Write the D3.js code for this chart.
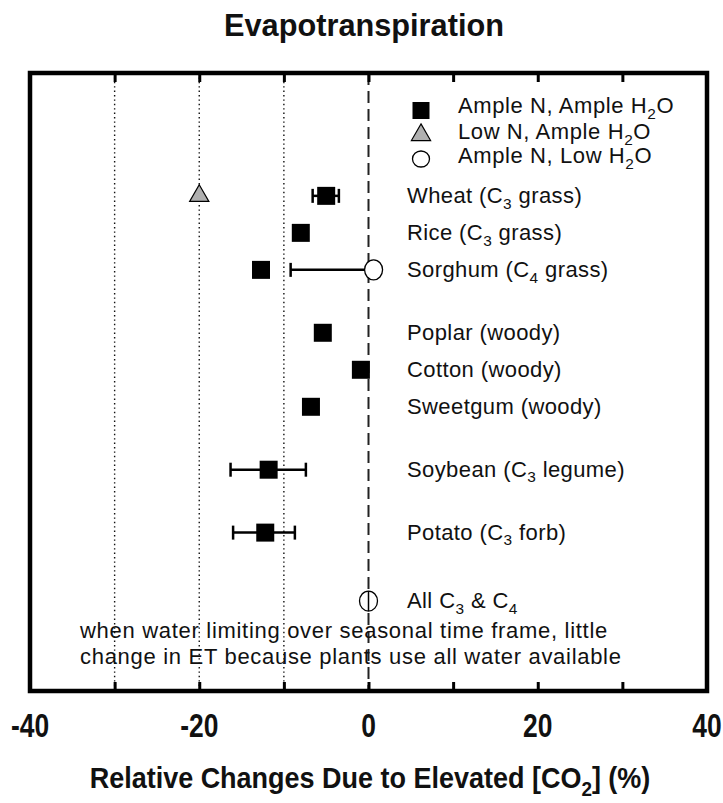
<!DOCTYPE html>
<html>
<head>
<meta charset="utf-8">
<script src="https://cdn.jsdelivr.net/npm/d3@7"></script>
<style>
    body { margin: 0; background: #fff; }
    text { font-family: "Liberation Sans", Arial, sans-serif; fill: #111; }
</style>
</head>
<body>
<div id="chart"></div>
<script>
// crop rows, top to bottom ("_x" marks a subscript)
var crops = ["Wheat (C_3 grass)", "Rice (C_3 grass)", "Sorghum (C_4 grass)",
    "Poplar (woody)", "Cotton (woody)", "Sweetgum (woody)",
    "Soybean (C_3 legume)", "Potato (C_3 forb)", "All C_3 & C_4"];
// y value of each row on the (hidden) y axis
var rowLevel = [13, 12, 11, 9.3, 8.3, 7.3, 5.6, 3.9, 2.05];

// Ample N, Ample H2O
var ampleAmple = [-5, -8, -12.7, -5.4, -0.9, -6.8, -11.8, -12.2, null];
var ampleAmpleLow = [-6.6, null, null, null, null, null, -16.3, -16, null];
var ampleAmpleHigh = [-3.5, null, null, null, null, null, -7.4, -8.7, null];
// Low N, Ample H2O
var lowNAmple = [-20, null, null, null, null, null, null, null, null];
// Ample N, Low H2O
var ampleLowWater = [null, null, 0.6, null, null, null, null, null, 0];
var ampleLowWaterLow = [null, null, -9.2, null, null, null, null, null, 0];
var ampleLowWaterHigh = [null, null, 0.6, null, null, null, null, null, 0];

var xTickLabels = [-40, -20, 0, 20, 40];
var xMinorTicks = [-30, -20, -10, 0, 10, 20, 30];
var dottedGrid = [-30, -20, -10];

var legendLabels = ["Ample N, Ample H_2O", "Low N, Ample H_2O", "Ample N, Low H_2O"];
var noteLines = ["when water limiting over seasonal time frame, little",
    "change in ET because plants use all water available"];

var width = 723, height = 803;
var frame = { left: 30, right: 707, top: 73, bottom: 691 };

var svg = d3.select("#chart").append("svg")
    .attr("width", width)
    .attr("height", height);

var x = d3.scaleLinear().domain([-40, 40]).range([frame.left, frame.right]);
var y = d3.scaleLinear().domain([-0.38, 16.32]).range([frame.bottom, frame.top]);

// writes "C_3" style strings with subscripts into a text element
function subText(sel, str, size) {
    var parts = str.split(/_(\w)/);
    parts.forEach(function (p, i) {
        if (p === "") return;
        var t = sel.append("tspan").text(p);
        if (i % 2 == 1) {
            t.attr("font-size", size * 0.7).attr("dy", size * 0.26);
        } else if (i > 0) {
            t.attr("dy", -size * 0.26);
        }
    });
}

// title
svg.append("text")
    .attr("transform", "translate(364,36) scale(0.96,1)")
    .attr("text-anchor", "middle")
    .attr("font-size", 32)
    .attr("font-weight", "bold")
    .text("Evapotranspiration");

// grid lines
svg.selectAll(".grid")
    .data(dottedGrid)
    .enter().append("line")
    .attr("x1", function (d) { return x(d); })
    .attr("x2", function (d) { return x(d); })
    .attr("y1", frame.top)
    .attr("y2", frame.bottom)
    .attr("stroke", "#111")
    .attr("stroke-width", 1.4)
    .attr("stroke-dasharray", "1.4,3");

svg.append("line")
    .attr("x1", x(0)).attr("x2", x(0))
    .attr("y1", frame.top).attr("y2", frame.bottom)
    .attr("stroke", "#222")
    .attr("stroke-width", 2)
    .attr("stroke-dasharray", "12,6");

// ticks, top and bottom, pointing inward
var bottomAxis = d3.axisBottom(x).tickValues(xMinorTicks).tickSize(-9).tickFormat("");
var topAxis = d3.axisTop(x).tickValues(xMinorTicks).tickSize(-9).tickFormat("");
svg.append("g").attr("transform", "translate(0," + frame.bottom + ")").call(bottomAxis);
svg.append("g").attr("transform", "translate(0," + frame.top + ")").call(topAxis);
svg.selectAll(".domain").remove();
svg.selectAll(".tick line").attr("stroke", "#000").attr("stroke-width", 3);

// frame
svg.append("rect")
    .attr("x", frame.left)
    .attr("y", frame.top)
    .attr("width", frame.right - frame.left)
    .attr("height", frame.bottom - frame.top)
    .attr("fill", "none")
    .attr("stroke", "#000")
    .attr("stroke-width", 4.5);

// tick labels (condensed)
svg.selectAll(".xlabel")
    .data(xTickLabels)
    .enter().append("text")
    .attr("transform", function (d) { return "translate(" + x(d) + ",737) scale(0.8,1)"; })
    .attr("text-anchor", "middle")
    .attr("font-size", 33)
    .attr("font-weight", "bold")
    .text(function (d) { return d; });

// axis title
var axisTitle = svg.append("text")
    .attr("transform", "translate(370,788) scale(0.9,1)")
    .attr("text-anchor", "middle")
    .attr("font-size", 30)
    .attr("font-weight", "bold");
subText(axisTitle, "Relative Changes Due to Elevated [CO_2] (%)", 30);

// rows as objects
var rows = crops.map(function (c, i) {
    return {
        crop: c, level: rowLevel[i],
        aa: ampleAmple[i], aaLo: ampleAmpleLow[i], aaHi: ampleAmpleHigh[i],
        ln: lowNAmple[i],
        lw: ampleLowWater[i], lwLo: ampleLowWaterLow[i], lwHi: ampleLowWaterHigh[i]
    };
});

// error bars
function errorBars(data, lo, hi) {
    var g = svg.append("g").attr("stroke", "#000").attr("stroke-width", 2.5);
    data.forEach(function (d) {
        var cy = y(d.level);
        g.append("line").attr("x1", x(d[lo])).attr("x2", x(d[hi])).attr("y1", cy).attr("y2", cy);
        g.append("line").attr("x1", x(d[lo])).attr("x2", x(d[lo])).attr("y1", cy - 7).attr("y2", cy + 7);
        g.append("line").attr("x1", x(d[hi])).attr("x2", x(d[hi])).attr("y1", cy - 7).attr("y2", cy + 7);
    });
}
errorBars(rows.filter(function (d) { return d.aaLo != null; }), "aaLo", "aaHi");
errorBars(rows.filter(function (d) { return d.lwLo != null && d.lwLo != d.lwHi; }), "lwLo", "lwHi");

var sqSize = 18;
var square = d3.symbol().type(d3.symbolSquare).size(sqSize * sqSize);
var triangle = d3.symbol().type(d3.symbolTriangle).size(160);

// Ample N, Ample H2O squares
svg.selectAll(".sq")
    .data(rows.filter(function (d) { return d.aa != null; }))
    .enter().append("path")
    .attr("d", square)
    .attr("transform", function (d) { return "translate(" + x(d.aa) + "," + y(d.level) + ")"; })
    .attr("fill", "#000");

// Low N triangles
svg.selectAll(".tri")
    .data(rows.filter(function (d) { return d.ln != null; }))
    .enter().append("path")
    .attr("d", triangle)
    .attr("transform", function (d) { return "translate(" + x(d.ln) + "," + y(d.level) + ")"; })
    .attr("fill", "#b0b0b0")
    .attr("stroke", "#000")
    .attr("stroke-width", 1.2);

// Low H2O open circles
svg.selectAll(".circ")
    .data(rows.filter(function (d) { return d.lw != null; }))
    .enter().append("ellipse")
    .attr("cx", function (d) { return x(d.lw); })
    .attr("cy", function (d) { return y(d.level); })
    .attr("rx", 9)
    .attr("ry", 10)
    .attr("fill", "#fff")
    .attr("stroke", "#000")
    .attr("stroke-width", 1.3);

// zero-width error bars show as a cap over the marker
rows.filter(function (d) { return d.lwLo != null && d.lwLo == d.lwHi; }).forEach(function (d) {
    svg.append("line")
        .attr("x1", x(d.lwLo)).attr("x2", x(d.lwLo))
        .attr("y1", y(d.level) - 10).attr("y2", y(d.level) + 10)
        .attr("stroke", "#000").attr("stroke-width", 1.5);
});

// crop labels
rows.forEach(function (d) {
    var t = svg.append("text")
        .attr("x", 407)
        .attr("y", y(d.level) + 7)
        .attr("font-size", 22)
        .attr("letter-spacing", 0.4);
    subText(t, d.crop, 22);
});

// legend
var legendY = [105, 131, 155];
var legend = svg.append("g");
legend.append("rect")
    .attr("x", 421 - 8.5).attr("y", legendY[0] - 3)
    .attr("width", 17).attr("height", 17)
    .attr("fill", "#000");
legend.append("path")
    .attr("d", triangle)
    .attr("transform", "translate(421," + (legendY[1] + 4) + ")")
    .attr("fill", "#b0b0b0")
    .attr("stroke", "#000")
    .attr("stroke-width", 1.2);
legend.append("ellipse")
    .attr("cx", 421).attr("cy", legendY[2] + 4)
    .attr("rx", 8.5).attr("ry", 8)
    .attr("fill", "#fff")
    .attr("stroke", "#000")
    .attr("stroke-width", 1.3);
legendLabels.forEach(function (l, i) {
    var t = legend.append("text")
        .attr("x", 458)
        .attr("y", legendY[i] + 8)
        .attr("font-size", 22)
        .attr("letter-spacing", 0.6);
    subText(t, l, 22);
});

// note at the bottom
svg.selectAll(".note")
    .data(noteLines)
    .enter().append("text")
    .attr("x", 80)
    .attr("y", function (d, i) { return 638 + i * 26; })
    .attr("font-size", 22)
    .attr("letter-spacing", 0.7)
    .text(function (d) { return d; });
</script>
</body>
</html>
